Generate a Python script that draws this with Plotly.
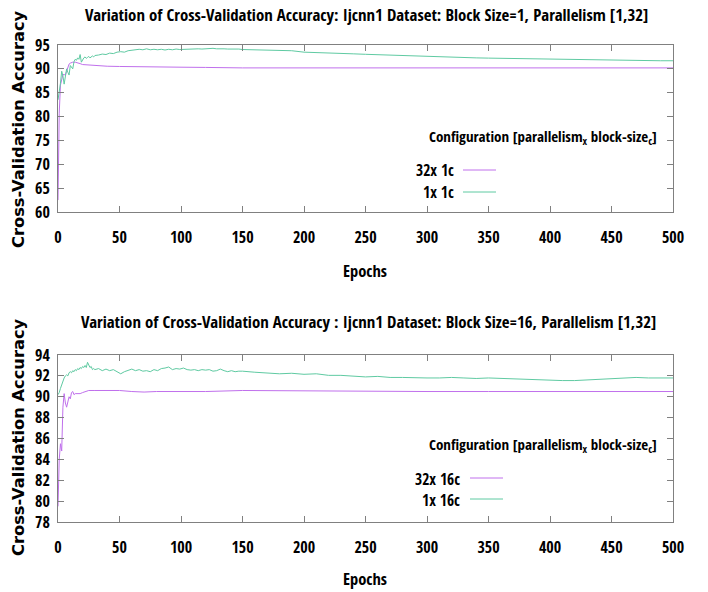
import plotly.graph_objects as go

# ---------------- data ----------------
top_p_epochs = [0, 1, 2, 3, 4, 5, 6, 7, 8, 9, 10, 12, 14, 16, 18, 20, 25, 30, 35, 40, 50, 60, 80, 100,
                120, 150, 200, 250, 300, 350, 400, 450, 500]
top_p_vals = [62.5, 80.7, 86.6, 88.0, 88.8, 88.8, 88.7, 89.5, 90.5, 91.0, 91.2, 91.4, 91.4, 91.3, 91.1,
              90.9, 90.8, 90.6, 90.6, 90.55, 90.5, 90.5, 90.45, 90.35, 90.3, 90.2, 90.2, 90.2, 90.2,
              90.2, 90.2, 90.2, 90.2]

top_g_epochs = list(range(0, 31)) + list(range(33, 151, 3)) + list(range(160, 501, 10))
top_g_vals = [83.5, 85.0, 87.0, 89.5, 88.5, 86.8, 89.0, 90.0, 89.3, 88.7,
              90.7, 90.3, 90.0, 91.5, 92.0, 91.8, 92.3, 92.0, 93.0, 91.4,
              92.0, 92.3, 92.5, 92.2, 92.4, 92.6, 92.3, 92.5, 92.7, 92.5, 92.8,
              92.9, 93.1, 93.0, 93.3, 93.2, 93.5, 93.6, 93.5, 93.8, 93.9,
              94.0, 94.1, 94.0, 94.2, 94.0, 94.1, 94.0, 94.1, 93.95, 94.1,
              94.0, 94.15, 94.05, 94.1, 94.0, 94.15, 94.1, 94.2, 94.15, 94.25,
              94.2, 94.3, 94.2, 94.25, 94.2, 94.15, 94.2, 94.1, 94.15, 94.05,
              94.0, 93.95, 93.9, 93.8, 93.5, 93.45, 93.35, 93.25, 93.15, 93.05,
              92.95, 92.85, 92.75, 92.7, 92.6, 92.5, 92.45, 92.4, 92.3, 92.25,
              92.2, 92.15, 92.1, 92.05, 92.0, 91.95, 91.9, 91.9, 91.85, 91.8,
              91.8, 91.75, 91.75, 91.7, 91.7]

bot_p_epochs = [0, 1, 2, 3, 4, 5, 6, 7, 8, 9, 10, 11, 12, 13, 14, 16, 18, 20, 22, 25, 30, 40, 50, 60,
                70, 80, 100, 120, 150, 200, 250, 300, 350, 400, 420, 450, 500]
bot_p_vals = [79.5, 84.0, 85.5, 84.8, 89.0, 90.3, 89.4, 89.0, 89.5, 90.0, 89.8, 90.4, 90.5, 90.2,
              90.3, 90.3, 90.3, 90.4, 90.5, 90.6, 90.6, 90.6, 90.6, 90.5, 90.45, 90.5, 90.5, 90.5,
              90.6, 90.55, 90.5, 90.5, 90.5, 90.5, 90.45, 90.5, 90.5]

bot_g_epochs = list(range(0, 31)) + list(range(33, 151, 3)) + list(range(160, 501, 10))
bot_g_vals = [90.2, 90.4, 90.8, 91.2, 91.5, 91.8, 92.0, 92.1, 92.0, 92.3,
              92.4, 92.3, 92.5, 92.4, 92.6, 92.5, 92.7, 92.6, 92.8, 92.7,
              92.9, 92.8, 93.0, 92.8, 93.3, 93.1, 92.8, 92.9, 92.6, 92.7, 92.6,
              92.7, 92.5, 92.65, 92.5, 92.6, 92.4, 92.2, 92.4, 92.5, 92.65,
              92.5, 92.6, 92.45, 92.5, 92.4, 92.6, 92.5, 92.7, 92.75, 92.85,
              92.6, 92.7, 92.65, 92.75, 92.6, 92.55, 92.6, 92.5, 92.6, 92.55,
              92.6, 92.45, 92.5, 92.65, 92.5, 92.4, 92.5, 92.4, 92.45, 92.45,
              92.35, 92.25, 92.2, 92.25, 92.15, 92.2, 92.05, 92.05, 91.95, 91.9,
              91.95, 91.85, 91.85, 91.8, 91.8, 91.8, 91.85, 91.8, 91.75, 91.8,
              91.75, 91.75, 91.7, 91.65, 91.6, 91.55, 91.55, 91.6, 91.7, 91.75,
              91.8, 91.85, 91.8, 91.8, 91.8]

x_ticks = [0, 50, 100, 150, 200, 250, 300, 350, 400, 450, 500]
top_y_ticks = [60, 65, 70, 75, 80, 85, 90, 95]
bot_y_ticks = [78, 80, 82, 84, 86, 88, 90, 92, 94]

title_top = "Variation of Cross-Validation Accuracy: Ijcnn1 Dataset: Block Size=1, Parallelism [1,32]"
title_bot = "Variation of Cross-Validation Accuracy : Ijcnn1 Dataset: Block Size=16, Parallelism [1,32]"
legend_title = "Configuration [parallelism<sub>x</sub> block-size<sub>c</sub>]"
names_top = ["32x 1c", "1x 1c"]
names_bot = ["32x 16c", "1x 16c"]

PURPLE = "#c070ec"
GREEN = "#5fcaa2"
NARROW = "Open Sans Condensed, Roboto Condensed, sans-serif"
WIDE = "DejaVu Sans, sans-serif"

# ---------------- layout helpers ----------------
W, H = 708, 592
L, R, T, B = 58, 673, 45, 522


def px(x):
    return (x - L) / (R - L)


def py(y):
    return (B - y) / (B - T)


fig = go.Figure()
fig.add_trace(go.Scatter(x=top_p_epochs, y=top_p_vals, mode="lines", line=dict(color=PURPLE, width=1),
                         xaxis="x", yaxis="y", showlegend=False))
fig.add_trace(go.Scatter(x=top_g_epochs, y=top_g_vals, mode="lines", line=dict(color=GREEN, width=1),
                         xaxis="x", yaxis="y", showlegend=False))
fig.add_trace(go.Scatter(x=bot_p_epochs, y=bot_p_vals, mode="lines", line=dict(color=PURPLE, width=1),
                         xaxis="x2", yaxis="y2", showlegend=False))
fig.add_trace(go.Scatter(x=bot_g_epochs, y=bot_g_vals, mode="lines", line=dict(color=GREEN, width=1),
                         xaxis="x2", yaxis="y2", showlegend=False))

tickfont = dict(family=NARROW, size=16, color="black", weight="bold")
axis_common = dict(showline=True, linecolor="#808080", linewidth=1, mirror="ticks", ticks="inside",
                   ticklen=6, tickcolor="#808080", showgrid=False, zeroline=False, tickfont=tickfont,
                   automargin=False)

top_dom = [py(212), 1.0]
bot_dom = [0.0, py(355)]

fig.update_layout(
    width=W, height=H,
    margin=dict(l=L, r=W - R, t=T, b=H - B),
    plot_bgcolor="white", paper_bgcolor="white",
    xaxis=dict(domain=[0, 1], range=[0, 500], tickvals=x_ticks, anchor="y", ticklabelstandoff=11, **axis_common),
    yaxis=dict(domain=top_dom, range=[60, 95], tickvals=top_y_ticks, anchor="x", ticklabelstandoff=4, **axis_common),
    xaxis2=dict(domain=[0, 1], range=[0, 500], tickvals=x_ticks, anchor="y2", ticklabelstandoff=11, **axis_common),
    yaxis2=dict(domain=bot_dom, range=[78, 94], tickvals=bot_y_ticks, anchor="x2", ticklabelstandoff=4, **axis_common),
)

ann = []


def text(x, y, s, size, family=NARROW, xanchor="center", angle=0):
    ann.append(dict(x=px(x), y=py(y), xref="paper", yref="paper", text=s, showarrow=False,
                    xanchor=xanchor, yanchor="middle", textangle=angle,
                    font=dict(family=family, size=size, color="black", weight="bold")))


text(366, 14, title_top, 16.8)
text(368, 321, title_bot, 16.8)
text(365, 270, "Epochs", 16.5)
text(365, 578, "Epochs", 16.5)
text(18, 129, "Cross-Validation Accuracy", 16.3, family=WIDE, angle=-90)
text(18, 437, "Cross-Validation Accuracy", 16.3, family=WIDE, angle=-90)

# legends
text(659, 137, legend_title, 15, xanchor="right")
text(456, 170, names_top[0], 15.5, xanchor="right")
text(456, 192, names_top[1], 15.5, xanchor="right")
text(659, 445, legend_title, 15, xanchor="right")
text(462, 479, names_bot[0], 15.5, xanchor="right")
text(462, 500, names_bot[1], 15.5, xanchor="right")

shapes = []
for (x0, x1, y, c) in [(463, 496, 170, PURPLE), (463, 496, 192, GREEN),
                       (470, 503, 478, PURPLE), (470, 503, 499, GREEN)]:
    shapes.append(dict(type="line", xref="paper", yref="paper", x0=px(x0), x1=px(x1), y0=py(y), y1=py(y),
                       line=dict(color=c, width=1)))

fig.update_layout(annotations=ann, shapes=shapes)
fig.write_html("out.html", config={"displayModeBar": False},
               post_script="document.body.style.margin='0';")
